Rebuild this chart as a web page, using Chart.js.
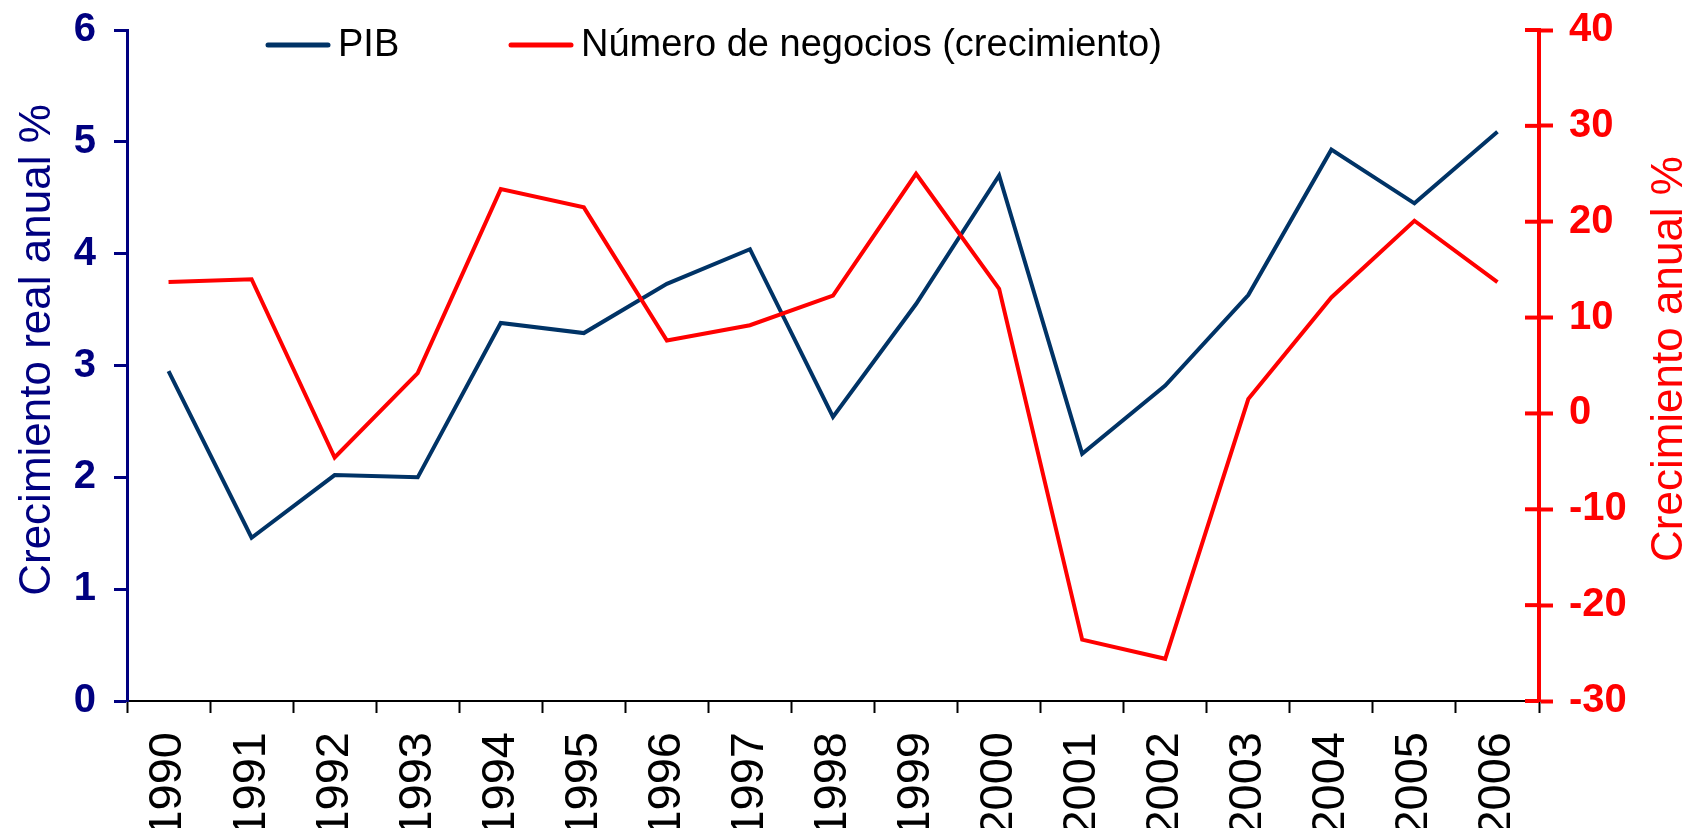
<!DOCTYPE html>
<html>
<head>
<meta charset="utf-8">
<script src="https://cdn.jsdelivr.net/npm/chart.js@4.4.0/dist/chart.umd.min.js"></script>
<style>
  html, body { margin: 0; padding: 0; background: #ffffff; overflow: hidden; width: 1686px; height: 828px; }
  #wrap { width: 1686px; height: 870px; }
</style>
</head>
<body>
<div id="wrap"><canvas id="c" width="1686" height="870"></canvas></div>
<script>
const years = ['1990','1991','1992','1993','1994','1995','1996','1997','1998','1999','2000','2001','2002','2003','2004','2005','2006'];
const pib = [2.95, 1.46, 2.02, 2.00, 3.38, 3.29, 3.73, 4.04, 2.54, 3.55, 4.70, 2.21, 2.82, 3.63, 4.93, 4.45, 5.09];
const negocios = [13.7, 14.0, -4.6, 4.2, 23.4, 21.5, 7.6, 9.2, 12.3, 25.0, 13.0, -23.6, -25.6, 1.5, 12.1, 20.1, 13.7];
const leftTicks = { min: 0, max: 6, step: 1 };
const rightTicks = { min: -30, max: 40, step: 10 };

const FONT = "'Liberation Sans', Arial, Helvetica, sans-serif";
const NAVY = '#000080';
const BLUE = '#003366';
const RED = '#ff0000';

const extras = {
  id: 'extras',
  afterDraw(chart) {
    const ctx = chart.ctx;
    const ca = chart.chartArea;
    const y2 = chart.scales.y2;
    ctx.save();
    // inner half of right axis ticks
    ctx.strokeStyle = RED;
    ctx.lineWidth = 4;
    y2.ticks.forEach(t => {
      const py = y2.getPixelForValue(t.value);
      ctx.beginPath();
      ctx.moveTo(ca.right - 14, py);
      ctx.lineTo(ca.right, py);
      ctx.stroke();
    });
    // legend
    ctx.font = '38px ' + FONT;
    ctx.textBaseline = 'middle';
    ctx.textAlign = 'left';
    const ly = 45;
    const items = [
      { color: BLUE, text: 'PIB', x: 268 },
      { color: RED, text: 'Número de negocios (crecimiento)', x: 511 }
    ];
    items.forEach(it => {
      ctx.strokeStyle = it.color;
      ctx.lineWidth = 5;
      ctx.lineCap = 'round';
      ctx.beginPath();
      ctx.moveTo(it.x, ly);
      ctx.lineTo(it.x + 60, ly);
      ctx.stroke();
      ctx.fillStyle = '#000000';
      ctx.fillText(it.text, it.x + 70, ly + 1);
    });
    // axis titles
    ctx.font = '44px ' + FONT;
    ctx.textAlign = 'center';
    ctx.textBaseline = 'alphabetic';
    ctx.fillStyle = NAVY;
    ctx.save();
    ctx.translate(50, 350);
    ctx.rotate(-Math.PI / 2);
    ctx.fillText('Crecimiento real anual %', 0, 0);
    ctx.restore();
    ctx.fillStyle = RED;
    ctx.save();
    ctx.translate(1682, 359);
    ctx.rotate(-Math.PI / 2);
    ctx.fillText('Crecimiento anual %', 0, 0);
    ctx.restore();
    ctx.restore();
  }
};

new Chart(document.getElementById('c'), {
  type: 'line',
  data: {
    labels: years,
    datasets: [
      { label: 'PIB', data: pib, yAxisID: 'y', borderColor: BLUE, backgroundColor: BLUE, borderWidth: 4, pointRadius: 0, tension: 0, order: 1 },
      { label: 'Número de negocios (crecimiento)', data: negocios, yAxisID: 'y2', borderColor: RED, backgroundColor: RED, borderWidth: 4, pointRadius: 0, tension: 0, order: 0 }
    ]
  },
  options: {
    responsive: false,
    animation: false,
    devicePixelRatio: 1,
    layout: { padding: { top: 30, left: 0, right: 0, bottom: 0 } },
    plugins: { legend: { display: false }, tooltip: { enabled: false }, title: { display: false } },
    scales: {
      x: {
        type: 'category',
        offset: true,
        grid: { offset: true, drawOnChartArea: false, drawTicks: true, tickLength: 12, tickColor: '#000000', tickWidth: 2 },
        border: { display: true, color: '#000000', width: 2 },
        ticks: { autoSkip: false, minRotation: 90, maxRotation: 90, padding: 19, color: '#000000', font: { family: FONT, size: 47 } },
        afterFit(s) { s.height = 169; s.paddingLeft = 0; s.paddingRight = 0; }
      },
      y: {
        position: 'left',
        min: leftTicks.min, max: leftTicks.max,
        grid: { drawOnChartArea: false, drawTicks: true, tickLength: 13, tickColor: NAVY, tickWidth: 3 },
        border: { display: true, color: NAVY, width: 3 },
        ticks: { stepSize: leftTicks.step, padding: 18, color: NAVY, font: { family: FONT, size: 40, weight: 'bold' } },
        afterFit(s) { s.width = 127; s.paddingTop = 0; s.paddingBottom = 0; }
      },
      y2: {
        position: 'right',
        min: rightTicks.min, max: rightTicks.max,
        grid: { drawOnChartArea: false, drawTicks: true, tickLength: 14, tickColor: RED, tickWidth: 4 },
        border: { display: true, color: RED, width: 4 },
        ticks: { stepSize: rightTicks.step, padding: 16, color: RED, font: { family: FONT, size: 40, weight: 'bold' } },
        afterFit(s) { s.width = 147; s.paddingTop = 0; s.paddingBottom = 0; }
      }
    }
  },
  plugins: [extras]
});
</script>
</body>
</html>
